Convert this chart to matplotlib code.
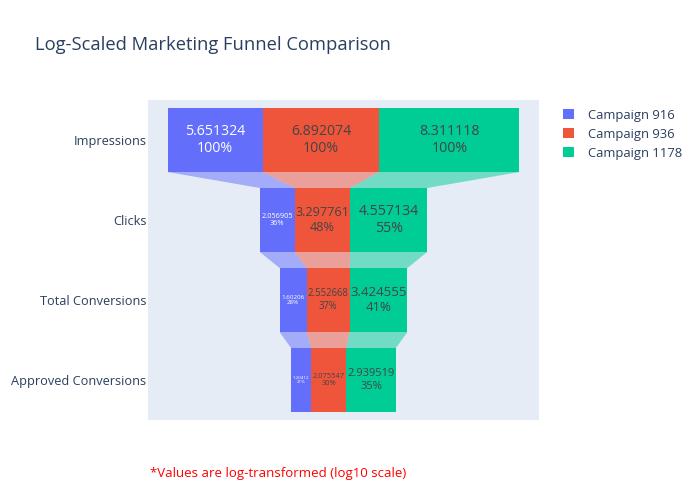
import numpy as np
import matplotlib.pyplot as plt
from matplotlib.patches import Polygon, Patch

plt.rcParams['font.family'] = ['Open Sans', 'DejaVu Sans']

# data (log10 values)
stages = ['Impressions', 'Clicks', 'Total Conversions', 'Approved Conversions']
campaigns = ['Campaign 916', 'Campaign 936', 'Campaign 1178']
c916 = [5.651324, 2.056905, 1.60206, 1.20412]
c936 = [6.892074, 3.297761, 2.552668, 2.075547]
c1178 = [8.311118, 4.557134, 3.424555, 2.939519]
colors = ['#636EFA', '#EF553B', '#00CC96']
text_colors = ['white', '#444444', '#444444']

values = np.array([c916, c936, c1178])
totals = values.sum(axis=0)

fig = plt.figure(figsize=(7, 5), dpi=100)
ax = fig.add_axes([148 / 700, 80 / 500, 391 / 700, 320 / 500])
ax.set_facecolor('#E5ECF6')

half = totals.max() / 2 * 1.111
ax.set_xlim(-half, half)
ax.set_ylim(3.5, -0.5)
h = 0.8
px_per_unit = 391 / (2 * half)
max_size = 10.2

lefts = np.zeros_like(values)
for j in range(len(stages)):
    start = -totals[j] / 2
    for i in range(len(campaigns)):
        lefts[i, j] = start
        start += values[i, j]

for i, name in enumerate(campaigns):
    ax.barh(range(len(stages)), values[i], left=lefts[i], height=h,
            color=colors[i], linewidth=0, zorder=3)
    # connectors
    for j in range(len(stages) - 1):
        l0, r0 = lefts[i, j], lefts[i, j] + values[i, j]
        l1, r1 = lefts[i, j + 1], lefts[i, j + 1] + values[i, j + 1]
        poly = Polygon([(l0, j + h / 2), (r0, j + h / 2),
                        (r1, j + 1 - h / 2), (l1, j + 1 - h / 2)],
                       closed=True, facecolor=colors[i], alpha=0.5,
                       linewidth=0, zorder=2)
        ax.add_patch(poly)
    # labels, shrunk to fit the bar like plotly does
    for j in range(len(stages)):
        v = values[i, j]
        pct = v / values[i, 0] * 100
        label = f'{v}'
        # rough text width in px: ~0.5 em per char
        tw = len(label) * 0.5 * max_size / 0.72
        room = v * px_per_unit - 5
        size = max_size if tw <= room else max_size * room / tw
        ax.text(lefts[i, j] + v / 2, j, f'{label}\n{pct:.0f}%',
                ha='center', va='center', color=text_colors[i],
                fontsize=size, linespacing=1.15, zorder=4)

ax.set_yticks(range(len(stages)))
ax.set_yticklabels(stages, fontsize=9.2, color='#2A3F5F')
ax.set_xticks([])
ax.tick_params(axis='y', length=0, pad=1)
for s in ax.spines.values():
    s.set_visible(False)

fig.text(35 / 700, 1 - 45 / 500, 'Log-Scaled Marketing Funnel Comparison',
         fontsize=13.2, color='#2A3F5F', va='center', ha='left')

handles = [Patch(facecolor=c, edgecolor='none') for c in colors]
fig.legend(handles, campaigns, loc='upper left', bbox_to_anchor=(551 / 700, 1 - 97 / 500),
           frameon=False, fontsize=9.4, labelcolor='#2A3F5F',
           handlelength=0.85, handleheight=0.85, handletextpad=1.05, labelspacing=0.45)

fig.text(150 / 700, 1 - 474 / 500, '*Values are log-transformed (log10 scale)',
         fontsize=9.5, color='red', va='center', ha='left')

fig.savefig('out.png', dpi=100)
